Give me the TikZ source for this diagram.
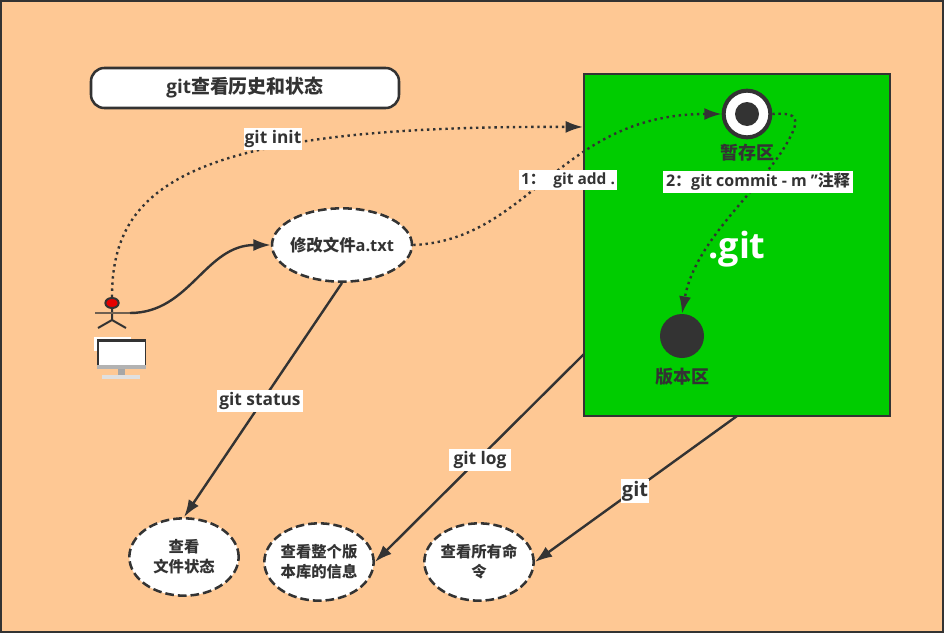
\documentclass[tikz,border=0pt]{standalone}
\usepackage{fontspec}
\setmainfont{Open Sans}
\newfontfamily\cjk{Noto Sans CJK SC}
\newcommand{\zh}[1]{{\cjk #1}}
\usetikzlibrary{arrows.meta,positioning,shapes.geometric}
\definecolor{paper}{RGB}{254,200,148}
\definecolor{ink}{RGB}{51,51,51}
\definecolor{repo}{RGB}{0,204,0}
\begin{document}
\begin{tikzpicture}[
  x=0.75pt, y=-0.75pt,
  font=\bfseries, text=ink,
  oval/.style={draw=ink, fill=white, ellipse, line width=1.9pt, dash pattern=on 6.5pt off 3pt, inner sep=0pt, align=center, font=\bfseries\fontsize{11.5}{15}\selectfont},
  tag/.style={fill=white, inner sep=0pt, font=\bfseries\fontsize{13}{16}\selectfont},
  smalltag/.style={fill=white, inner xsep=1pt, inner ysep=1.5pt, font=\bfseries\fontsize{11.6}{13}\selectfont},
  zone/.style={font=\bfseries\fontsize{13.5}{16}\selectfont},
  arr/.style={draw=ink, line width=1.8pt, -{Latex[length=13pt,width=9pt]}},
  dots/.style={arr, dash pattern=on 1.8pt off 2.8pt}
]
\useasboundingbox (0,0) rectangle (945,635);
\draw[draw=ink, fill=paper, line width=1.5pt] (1,1) rectangle (943,632);
\node[draw=ink, fill=white, line width=1.9pt, rounded corners=10pt, minimum width=231pt, minimum height=30pt, font=\bfseries\fontsize{14.2}{16}\selectfont] (title) at (245,88) {git\zh{查看历史和状态}};
\node[draw=ink, fill=repo, line width=1.9pt, minimum width=229.5pt, minimum height=256.5pt, inner sep=0pt] (gitbox) at (737,245) {};
\node[text=white, font=\bfseries\fontsize{27}{30}\selectfont] (gitname) at (737,249) {.git};
\node[circle, draw=ink, fill=white, line width=3pt, minimum size=35pt, inner sep=0pt] (stage) at (747,114) {};
\node[circle, fill=ink, minimum size=18pt, inner sep=0pt] (stagedot) at (747,114) {};
\node[zone, below=0pt of stage] (stagename) {\zh{暂存区}};
\node[circle, fill=ink, minimum size=33pt, inner sep=0pt] (store) at (682,336) {};
\node[zone, below=3.5pt of store] (storename) {\zh{版本区}};
\node[oval, inner xsep=-8pt, minimum width=105pt, minimum height=55pt, font=\bfseries\fontsize{12.3}{15}\selectfont] (edit) at (342,245) {\zh{修改文件}a.txt};
\node[oval, minimum width=82pt, minimum height=58pt] (state) at (184,557) {\zh{查看}\\\zh{文件状态}};
\node[oval, minimum width=82pt, minimum height=58pt] (history) at (319,562) {\zh{查看整个版}\\\zh{本库的信息}};
\node[oval, minimum width=82pt, minimum height=58pt] (help) at (479,562) {\zh{查看所有命}\\\zh{令}};
\fill[white] (94,337) rectangle (131,351);
\node[ellipse, draw=ink, fill=red!90!black, line width=1.5pt, minimum width=10pt, minimum height=7.5pt, inner sep=0pt] (actor) at (112,303) {};
\coordinate (actorhand) at (130,313);
\coordinate (hip) at (112,320);
\draw[ink, line width=1.5pt] (actor) -- (hip) -- (98,328) (hip) -- (126,328);
\draw[ink!70!paper, line width=1.5pt] (95,313) -- (actorhand);
\fill[ink] (97,339) rectangle (146,366);
\fill[white] (98.5,342) rectangle (144.5,365);
\fill[black!30] (97,365) rectangle (146,369);
\fill[black!35] (118,369) rectangle (125,375);
\fill[black!12] (102,375) rectangle (140,379);
\coordinate (logstart) at (584,354);
\coordinate (helpstart) at (737,416);
\coordinate (initend) at (583,127);
\coordinate (commitbend) at (787,143);
\path[dots] (actor.north) .. controls (112,185) and (190,125) .. (initend);
\path[arr] (actorhand) .. controls (190,313) and (205,245) .. (edit.west);
\path[dots] (edit.east) .. controls (530,240) and (560,114) .. (stage.west);
\path[dots] (stage.east) .. controls (800,112) and (800,120) .. (commitbend) .. controls (760,190) and (695,240) .. (store.north);
\path[arr] (edit.south) -- (state.north);
\path[arr] (logstart) -- (history.east);
\path[arr] (helpstart) -- (help.east);
\node[tag, minimum width=44pt, minimum height=16pt] (initlabel) at (273,139) {git init};
\node[tag, minimum width=64pt, minimum height=16pt] (statuslabel) at (260,401) {git status};
\node[tag, minimum width=47pt, minimum height=16pt] (loglabel) at (480,460) {git log};
\node[tag, minimum width=21pt, minimum height=18pt, font=\bfseries\fontsize{15}{18}\selectfont] (helplabel) at (635,491) {git};
\node[smalltag, minimum width=74pt] (addlabel) at (568,180) {1\zh{：}\ \ git add .};
\node[smalltag, minimum width=142pt, font=\bfseries\fontsize{12}{13}\selectfont] (commitlabel) at (758,182) {2\zh{：}git commit - m {'}{'}\zh{注释}};
\end{tikzpicture}
\end{document}
